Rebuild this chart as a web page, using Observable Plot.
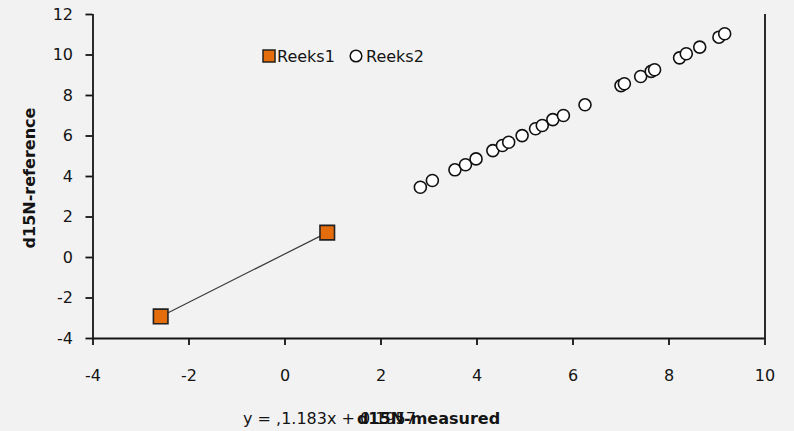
<!DOCTYPE html>
<html><head><meta charset="utf-8">
<script src="https://cdn.jsdelivr.net/npm/d3@7"></script>
<script src="https://cdn.jsdelivr.net/npm/@observablehq/plot@0.6"></script>
<style>html,body{margin:0;padding:0;background:#f2f2f2;} #chart{position:relative;width:794px;height:431px;}</style>
</head><body><div id="chart"></div>
<script>
const seriesNames = ["Reeks1", "Reeks2"];
const reeks1X = [-2.59, 0.88];
const reeks1Y = [-2.91, 1.23];
const reeks2X = [2.82, 3.07, 3.54, 3.76, 3.98, 4.33, 4.53, 4.66, 4.94, 5.22, 5.36, 5.58, 5.80, 6.25, 7.00, 7.07, 7.41, 7.63, 7.70, 8.22, 8.36, 8.64, 9.04, 9.16];
const reeks2Y = [3.47, 3.80, 4.33, 4.58, 4.87, 5.28, 5.53, 5.69, 6.02, 6.36, 6.52, 6.81, 7.01, 7.54, 8.49, 8.58, 8.94, 9.19, 9.27, 9.86, 10.06, 10.39, 10.88, 11.05];
const xTicks = [-4, -2, 0, 2, 4, 6, 8, 10];
const yTicks = [-4, -2, 0, 2, 4, 6, 8, 10, 12];
const xTitle = "d15N-measured";
const yTitle = "d15N-reference";
const equation = "y = ,1.183x + 0.1957";

const r1 = reeks1X.map((x, i) => ({x, y: reeks1Y[i], s: seriesNames[0]}));
const r2 = reeks2X.map((x, i) => ({x, y: reeks2Y[i], s: seriesNames[1]}));

const font = "'DejaVu Sans', sans-serif";
const ink = "#141414";
const fmt = d => String(d);
const plot = Plot.plot({
  width: 794, height: 431,
  marginLeft: 92.5, marginRight: 29.5, marginTop: 14, marginBottom: 93,
  style: {background: "#f2f2f2", fontFamily: font, fontSize: "16px", color: ink, overflow: "visible"},
  x: {domain: [-4, 10]},
  y: {domain: [-4, 12]},
  marks: [
    Plot.ruleX([10], {stroke: ink, strokeWidth: 1.8}),
    Plot.axisX({ticks: xTicks, tickFormat: fmt, tickSize: 7, tickPadding: 24, label: null, strokeWidth: 1.8, fontSize: 16}),
    Plot.axisY({ticks: yTicks, tickFormat: fmt, tickSize: 7, tickPadding: 13, label: null, strokeWidth: 1.8, fontSize: 16}),
    Plot.ruleX([-4], {stroke: ink, strokeWidth: 1.8}),
    Plot.ruleY([-4], {stroke: ink, strokeWidth: 1.8}),
    Plot.line(r1, {x: "x", y: "y", stroke: "#3a3a3a", strokeWidth: 1.2}),
    Plot.dot(r2, {x: "x", y: "y", r: 6, fill: "white", stroke: "#111", strokeWidth: 1.6}),
    Plot.dot(r1, {x: "x", y: "y", symbol: "square", r: 8.2, fill: "#e46c0a", stroke: "#222", strokeWidth: 1.6})
  ]
});
document.getElementById("chart").appendChild(plot);

const svg = d3.select(plot);
svg.append("text").attr("transform", "translate(35,178) rotate(-90)")
  .attr("text-anchor", "middle").attr("font-family", font).attr("font-size", 16)
  .attr("font-weight", "bold").attr("fill", ink).text(yTitle);
svg.append("text").attr("x", 243).attr("y", 424).attr("text-anchor", "start").attr("font-family", font)
  .attr("font-size", 16).attr("fill", ink).text(equation);
svg.append("text").attr("x", 428.5).attr("y", 424).attr("text-anchor", "middle")
  .attr("font-family", font).attr("font-size", 16).attr("font-weight", "bold")
  .attr("fill", ink).text(xTitle);

// legend
const lg = svg.append("g").attr("font-family", font).attr("font-size", 16).attr("fill", ink).attr("text-anchor", "start");
lg.append("rect").attr("x", 263).attr("y", 50).attr("width", 12).attr("height", 12)
  .attr("fill", "#e46c0a").attr("stroke", "#222").attr("stroke-width", 1.5);
lg.append("text").attr("x", 277).attr("y", 61.5).text(seriesNames[0]);
lg.append("circle").attr("cx", 356).attr("cy", 56).attr("r", 5.8)
  .attr("fill", "white").attr("stroke", "#111").attr("stroke-width", 1.5);
lg.append("text").attr("x", 366).attr("y", 61.5).text(seriesNames[1]);
</script>
</body></html>
